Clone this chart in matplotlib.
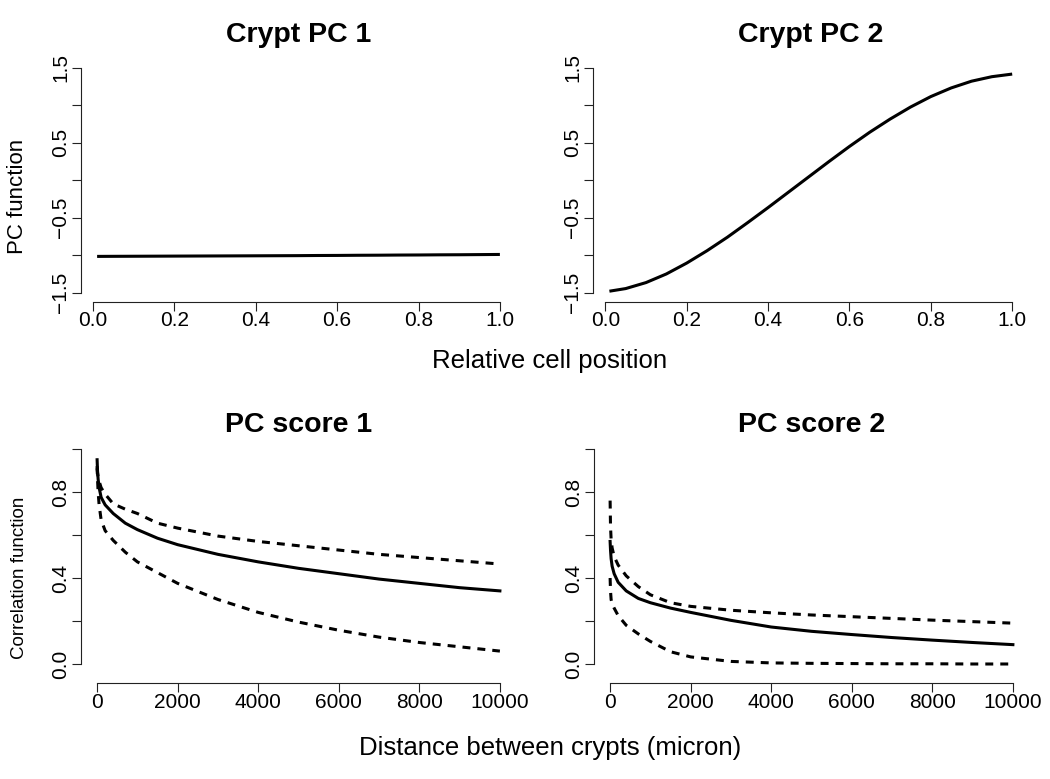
import matplotlib
matplotlib.use("Agg")
import matplotlib.pyplot as plt

plt.rcParams['font.family'] = ['Liberation Sans', 'DejaVu Sans']

# ---------------- data ----------------
cell_pos = [0.01, 0.05, 0.10, 0.15, 0.20, 0.25, 0.30, 0.35, 0.40, 0.45, 0.50,
            0.55, 0.60, 0.65, 0.70, 0.75, 0.80, 0.85, 0.90, 0.95, 1.00]
pc1_func = [-1.016, -1.015, -1.014, -1.013, -1.012, -1.011, -1.010, -1.009, -1.008, -1.007, -1.006,
            -1.004, -1.003, -1.001, -1.000, -0.998, -0.997, -0.995, -0.994, -0.992, -0.990]
pc2_func = [-1.48, -1.445, -1.365, -1.25, -1.105, -0.94, -0.76, -0.565, -0.365, -0.16, 0.045,
            0.25, 0.45, 0.64, 0.815, 0.975, 1.115, 1.23, 1.32, 1.38, 1.415]

distance = [0, 10, 25, 50, 100, 200, 400, 700, 1000, 1500, 2000, 3000,
            4000, 5000, 6000, 7000, 8000, 9000, 10000]
score1_est = [0.95, 0.90, 0.86, 0.82, 0.775, 0.74, 0.70, 0.655, 0.625, 0.585, 0.555, 0.51,
              0.475, 0.445, 0.42, 0.395, 0.375, 0.355, 0.34]
score1_upper = [0.91, 0.89, 0.87, 0.85, 0.82, 0.79, 0.745, 0.72, 0.70, 0.655, 0.632, 0.595,
                0.57, 0.55, 0.53, 0.51, 0.495, 0.48, 0.465]
score1_lower = [0.92, 0.86, 0.80, 0.74, 0.67, 0.62, 0.575, 0.52, 0.475, 0.425, 0.375, 0.30,
                0.24, 0.195, 0.157, 0.125, 0.10, 0.08, 0.06]
score2_est = [0.57, 0.53, 0.49, 0.455, 0.42, 0.38, 0.34, 0.305, 0.285, 0.26, 0.24, 0.203,
              0.172, 0.152, 0.137, 0.123, 0.111, 0.10, 0.09]
score2_upper = [0.76, 0.64, 0.58, 0.54, 0.50, 0.46, 0.41, 0.36, 0.322, 0.285, 0.268, 0.25,
                0.238, 0.228, 0.22, 0.212, 0.204, 0.197, 0.19]
score2_lower = [0.40, 0.34, 0.30, 0.28, 0.26, 0.225, 0.18, 0.14, 0.105, 0.057, 0.033, 0.012,
                0.005, 0.003, 0.002, 0.001, 0.001, 0.0, 0.0]

titles = ["Crypt PC 1", "Crypt PC 2", "PC score 1", "PC score 2"]
top_xticks = [0.0, 0.2, 0.4, 0.6, 0.8, 1.0]
top_xlabels = ["0.0", "0.2", "0.4", "0.6", "0.8", "1.0"]
top_yticks = [-1.5, -1.0, -0.5, 0.0, 0.5, 1.0, 1.5]
top_ylabels = ["\u22121.5", "", "\u22120.5", "", "0.5", "", "1.5"]
bot_xticks = [0, 2000, 4000, 6000, 8000, 10000]
bot_xlabels = ["0", "2000", "4000", "6000", "8000", "10000"]
bot_yticks = [0.0, 0.2, 0.4, 0.6, 0.8, 1.0]
bot_ylabels = ["0.0", "", "0.4", "", "0.8", ""]

# ---------------- figure ----------------
W, H = 1050, 779
fig = plt.figure(figsize=(W / 100, H / 100), dpi=100)


def px_axes(left, top, right, bottom):
    return fig.add_axes([left / W, 1 - bottom / H, (right - left) / W, (bottom - top) / H])


LW = 2.2
TICK_FS = 15
DASH = (2.6, 2.3)


def style(ax, xticks, xlabels, yticks, ylabels, xlim, ylim):
    ax.set_xlim(*xlim)
    ax.set_ylim(*ylim)
    for s in ("top", "right"):
        ax.spines[s].set_visible(False)
    for s in ("left", "bottom"):
        ax.spines[s].set_linewidth(0.8)
        ax.spines[s].set_color("#222222")
    ax.spines["left"].set_bounds(yticks[0], yticks[-1])
    ax.spines["bottom"].set_bounds(xticks[0], xticks[-1])
    ax.set_xticks(xticks, labels=xlabels)
    ax.set_yticks(yticks, labels=ylabels)
    ax.tick_params(axis="both", direction="out", length=6.5, width=0.8,
                   color="#222222", labelsize=TICK_FS)
    ax.tick_params(axis="x", pad=0.5)
    ax.tick_params(axis="y", pad=1.5)
    for lab in ax.get_yticklabels():
        lab.set_rotation(90)
        lab.set_va("center")
        lab.set_ha("right")
    ax.patch.set_visible(False)


# top-left
ax1 = px_axes(81, 58.7, 516, 301.7)
ax1.plot(cell_pos, pc1_func, color="black", lw=LW, solid_capstyle="butt")
style(ax1, top_xticks, top_xlabels, top_yticks, top_ylabels, (-0.0296, 1.0396), (-1.62, 1.62))

# top-right
ax2 = px_axes(593.3, 58.7, 1028.3, 301.7)
ax2.plot(cell_pos, pc2_func, color="black", lw=LW, solid_capstyle="butt",
         solid_joinstyle="round")
style(ax2, top_xticks, top_xlabels, top_yticks, top_ylabels, (-0.0296, 1.0396), (-1.62, 1.62))

# bottom-left
ax3 = px_axes(81, 440.4, 516, 683.3)
ax3.plot(distance, score1_est, color="black", lw=LW, solid_joinstyle="round")
ax3.plot(distance, score1_upper, color="black", lw=LW, dashes=DASH)
ax3.plot(distance, score1_lower, color="black", lw=LW, dashes=DASH)
style(ax3, bot_xticks, bot_xlabels, bot_yticks, bot_ylabels, (-400, 10400), (-0.0898, 1.04))

# bottom-right
ax4 = px_axes(594, 440.4, 1029, 683.3)
ax4.plot(distance, score2_est, color="black", lw=LW, solid_joinstyle="round")
ax4.plot(distance, score2_upper, color="black", lw=LW, dashes=DASH)
ax4.plot(distance, score2_lower, color="black", lw=LW, dashes=DASH)
style(ax4, bot_xticks, bot_xlabels, bot_yticks, bot_ylabels, (-400, 10400), (-0.0898, 1.04))

# titles
TITLE_FS = 20.5
fig.text(298.5 / W, 1 - 42 / H, titles[0], ha="center", va="baseline",
         fontsize=TITLE_FS, fontweight="bold")
fig.text(810.8 / W, 1 - 42 / H, titles[1], ha="center", va="baseline",
         fontsize=TITLE_FS, fontweight="bold")
fig.text(298.5 / W, 1 - 432 / H, titles[2], ha="center", va="baseline",
         fontsize=TITLE_FS, fontweight="bold")
fig.text(811.5 / W, 1 - 432 / H, titles[3], ha="center", va="baseline",
         fontsize=TITLE_FS, fontweight="bold")

# axis labels
fig.text(550 / W, 1 - 368 / H, "Relative cell position", ha="center", va="baseline", fontsize=18.5)
fig.text(550 / W, 1 - 755 / H, "Distance between crypts (micron)", ha="center", va="baseline",
         fontsize=18.5)
fig.text(18 / W, 1 - 196.5 / H, "PC function", ha="center", va="center", rotation=90, fontsize=16)
fig.text(19.7 / W, 1 - 578 / H, "Correlation function", ha="center", va="center", rotation=90,
         fontsize=13.5)

fig.savefig("out.png", dpi=100)
